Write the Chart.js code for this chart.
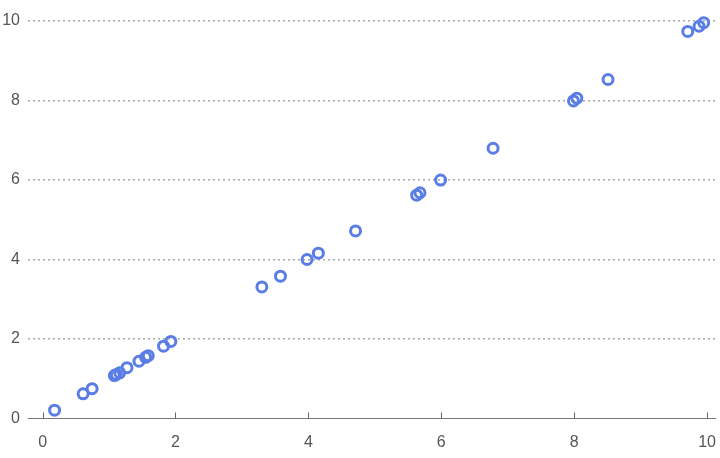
<!DOCTYPE html>
<html>
<head>
<meta charset="utf-8">
<script src="https://cdn.jsdelivr.net/npm/chart.js@4"></script>
<style>
html,body{margin:0;padding:0;background:#fff;}
#wrap{width:720px;height:458px;position:relative;}
</style>
</head>
<body>
<div id="wrap"><canvas id="c" width="720" height="458"></canvas></div>
<script>
const xValues = [0.18,0.61,0.745,1.08,1.11,1.16,1.27,1.45,1.55,1.59,1.82,1.93,3.30,3.58,3.98,4.15,4.71,5.63,5.68,5.99,6.78,7.99,8.04,8.51,9.71,9.88,9.95];
const yValues = [0.21,0.62,0.75,1.08,1.11,1.15,1.28,1.44,1.54,1.58,1.82,1.94,3.31,3.58,4.00,4.16,4.72,5.62,5.68,6.00,6.80,7.99,8.06,8.53,9.74,9.87,9.96];
const xTicks = [0,2,4,6,8,10];
const yTicks = [0,2,4,6,8,10];

const points = xValues.map((x,i)=>({x:x,y:yValues[i]}));
const FONT = {family:"'Liberation Sans', Arial, sans-serif", size:16};

const axisTicksPlugin = {
  id:'axisTicks',
  afterDatasetsDraw(chart){
    const ctx = chart.ctx, xs = chart.scales.x, ys = chart.scales.y;
    const y0 = ys.getPixelForValue(0);
    ctx.save();
    ctx.strokeStyle = '#666';
    ctx.lineWidth = 1;
    xTicks.forEach(v=>{
      const px = Math.round(xs.getPixelForValue(v)) + 0.5;
      ctx.beginPath();
      ctx.moveTo(px, y0);
      ctx.lineTo(px, y0 - 6);
      ctx.stroke();
    });
    ctx.restore();
  }
};

new Chart(document.getElementById('c'), {
  type:'scatter',
  data:{datasets:[{
    data:points,
    pointRadius:5,
    pointHoverRadius:5,
    pointBorderWidth:3,
    borderColor:'#5a7de6',
    backgroundColor:'rgba(255,255,255,0)',
    pointBackgroundColor:'rgba(255,255,255,0)',
    pointBorderColor:'#5a7de6',
    clip:false
  }]},
  options:{
    responsive:false,
    animation:false,
    devicePixelRatio:1,
    layout:{autoPadding:false, padding:{left:0,right:5,top:0,bottom:0}},
    plugins:{legend:{display:false},tooltip:{enabled:false}},
    scales:{
      x:{
        type:'linear',
        min:-0.22, max:10.12,
        afterBuildTicks(s){ s.ticks = xTicks.map(v=>({value:v})); },
        afterFit(s){ s.height = 39.5; s.paddingLeft = 0; s.paddingRight = 0; },
        border:{display:true,color:'#777',width:1},
        grid:{display:false, drawTicks:false},
        ticks:{color:'#555', font:FONT, padding:14, maxRotation:0}
      },
      y:{
        type:'linear',
        min:0, max:10.53,
        afterBuildTicks(s){ s.ticks = yTicks.map(v=>({value:v})); },
        afterFit(s){ s.width = 28; s.paddingTop = 0; s.paddingBottom = 0; },
        border:{display:false, dash:[2,3]},
        grid:{
          drawTicks:false,
          color:(c)=> c.tick && c.tick.value === 0 ? 'rgba(0,0,0,0)' : '#a8a8a8',
          lineWidth:1.5
        },
        ticks:{color:'#555', font:FONT, padding:8}
      }
    }
  },
  plugins:[axisTicksPlugin]
});
</script>
</body>
</html>
